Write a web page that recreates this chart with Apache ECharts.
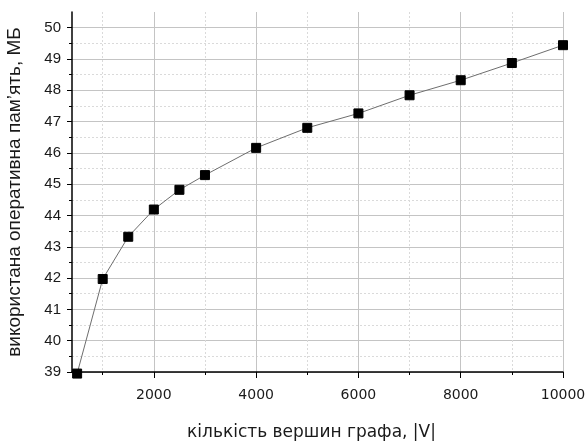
<!DOCTYPE html>
<html>
<head>
<meta charset="utf-8">
<script src="https://cdn.jsdelivr.net/npm/echarts@6/dist/echarts.min.js"></script>
<style>
  html, body { margin: 0; padding: 0; background: #fff; }
  #chart { width: 585px; height: 443px; }
</style>
</head>
<body>
<div id="chart"></div>
<script>
// Memory use against number of graph vertices
const vertexCounts = [500, 1000, 1500, 2000, 2500, 3000, 4000, 5000, 6000, 7000, 8000, 9000, 10000];
const memoryMB = [38.95, 41.97, 43.32, 44.19, 44.82, 45.29, 46.16, 46.80, 47.26, 47.84, 48.32, 48.87, 49.44];

const xMajorTicks = [2000, 4000, 6000, 8000, 10000];
const xMinorTicks = [1000, 3000, 5000, 7000, 9000];
const yMajorTicks = [39, 40, 41, 42, 43, 44, 45, 46, 47, 48, 49, 50];
const yMinorTicks = [39.5, 40.5, 41.5, 42.5, 43.5, 44.5, 45.5, 46.5, 47.5, 48.5, 49.5];

const xTitle = 'кількість вершин графа, |V|';
const yTitle = 'використана оперативна пам\u2019ять, МБ';

const X_MIN = 400, X_MAX = 10000, Y_MIN = 39, Y_MAX = 50.5;

const chart = echarts.init(document.getElementById('chart'), null, { renderer: 'canvas' });

const labelFontX = { fontFamily: 'DejaVu Sans', fontSize: 14, color: '#1a1a1a' };
const labelFontY = { fontFamily: 'Liberation Sans', fontSize: 15, color: '#1a1a1a' };

chart.setOption({
  animation: false,
  backgroundColor: '#ffffff',
  grid: { left: 72, right: 22, top: 12, bottom: 71, containLabel: false, outerBoundsMode: 'none' },
  xAxis: [
    {
      type: 'value', min: X_MIN, max: X_MAX, position: 'bottom',
      name: xTitle, nameLocation: 'middle', nameGap: 52,
      nameTextStyle: { fontFamily: 'DejaVu Sans', fontSize: 17, color: '#1a1a1a', padding: [0, 12, 0, 0] },
      axisLine: { show: true, lineStyle: { color: '#000', width: 1.5 } },
      axisTick: { show: true, length: 6, inside: false, customValues: xMajorTicks, lineStyle: { color: '#000', width: 1 } },
      axisLabel: { show: true, margin: 16, customValues: xMajorTicks, formatter: v => String(v), ...labelFontX },
      splitLine: { show: true, lineStyle: { color: '#c4c4c4', width: 1, type: 'solid' } }
    },
    {
      type: 'value', min: X_MIN, max: X_MAX, position: 'bottom',
      axisLine: { show: false },
      axisTick: { show: true, length: 3, customValues: xMinorTicks, lineStyle: { color: '#000', width: 1 } },
      axisLabel: { show: false, customValues: xMinorTicks },
      splitLine: { show: true, lineStyle: { color: '#dadada', width: 1, type: [2, 2] } }
    }
  ],
  yAxis: [
    {
      type: 'value', min: Y_MIN, max: Y_MAX, position: 'left',
      name: yTitle, nameLocation: 'middle', nameGap: 48,
      nameTextStyle: { fontFamily: 'Liberation Sans', fontSize: 19, color: '#1a1a1a' },
      axisLine: { show: true, lineStyle: { color: '#000', width: 1.5 } },
      axisTick: { show: true, length: 5, customValues: yMajorTicks, lineStyle: { color: '#000', width: 1 } },
      axisLabel: { show: true, margin: 11, customValues: yMajorTicks, ...labelFontY },
      splitLine: { show: true, lineStyle: { color: '#c4c4c4', width: 1, type: 'solid' } }
    },
    {
      type: 'value', min: Y_MIN, max: Y_MAX, position: 'left',
      axisLine: { show: false },
      axisTick: { show: true, length: 3, customValues: yMinorTicks, lineStyle: { color: '#000', width: 1 } },
      axisLabel: { show: false, customValues: yMinorTicks },
      splitLine: { show: true, lineStyle: { color: '#dadada', width: 1, type: [2, 2] } }
    }
  ],
  series: [
    {
      type: 'line',
      xAxisIndex: 0, yAxisIndex: 0,
      data: vertexCounts.map((v, i) => [v, memoryMB[i]]),
      symbol: 'rect', symbolSize: 9,
      showAllSymbol: true,
      clip: false,
      lineStyle: { color: '#6e6e6e', width: 1 },
      itemStyle: { color: '#000', borderColor: '#000' },
      z: 5
    }
  ]
});
</script>
</body>
</html>
